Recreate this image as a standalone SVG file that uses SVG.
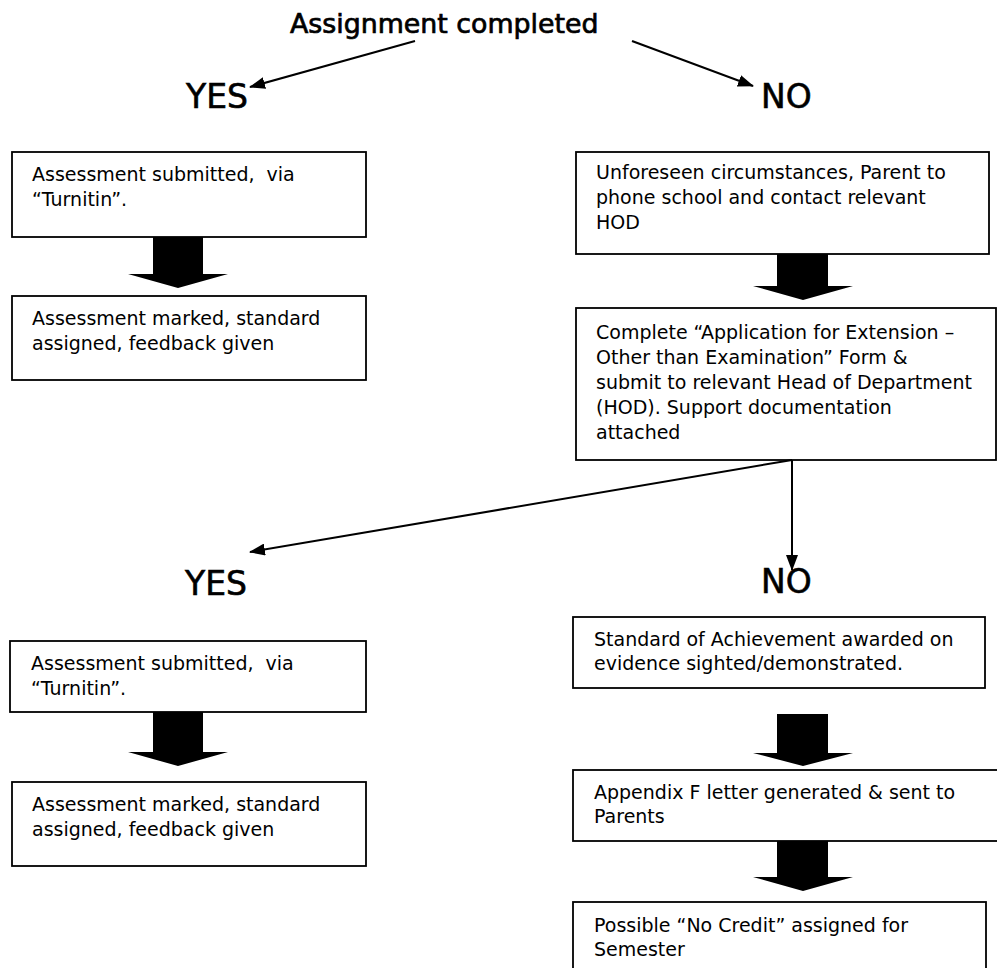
<svg xmlns="http://www.w3.org/2000/svg" width="997" height="968" viewBox="0 0 997 968">
<style>
  .box { fill: #fff; stroke: #000; stroke-width: 1.8; }
  .t { font-family: "DejaVu Sans", Verdana, sans-serif; font-size: 19px; fill: #000; white-space: pre; }
  .big { font-family: "DejaVu Sans", Verdana, sans-serif; font-size: 33px; fill: #000; stroke: #000; stroke-width: 0.6; }
  .title { font-family: "DejaVu Sans", Verdana, sans-serif; font-size: 26.8px; fill: #000; stroke: #000; stroke-width: 0.7; }
  .con { fill: none; stroke: #000; stroke-width: 2; marker-end: url(#ah); }
  .blk { fill: #000; }
</style>
<defs>
  <marker id="ah" markerWidth="16" markerHeight="12" refX="15" refY="6" orient="auto" markerUnits="userSpaceOnUse">
    <path d="M0,0 L16,6 L0,12 Z" fill="#000"/>
  </marker>
</defs>

<g id="title"><text class="title" x="290" y="33">Assignment completed</text></g>
<g id="yes1"><text class="big" x="186" y="108">YES</text></g>
<g id="no1"><text class="big" x="761" y="108">NO</text></g>

<g id="box-l1">
  <rect class="box" x="12" y="152" width="354" height="85"/>
  <text class="t" x="32" y="181" xml:space="preserve">Assessment submitted,  via</text>
  <text class="t" x="32" y="206">“Turnitin”.</text>
</g>
<g id="box-l2">
  <rect class="box" x="12" y="296" width="354" height="84"/>
  <text class="t" x="32" y="325">Assessment marked, standard</text>
  <text class="t" x="32" y="350">assigned, feedback given</text>
</g>

<g id="box-r1">
  <rect class="box" x="576" y="152" width="413" height="102"/>
  <text class="t" x="596" y="179">Unforeseen circumstances, Parent to</text>
  <text class="t" x="596" y="204">phone school and contact relevant</text>
  <text class="t" x="596" y="229">HOD</text>
</g>
<g id="box-r2">
  <rect class="box" x="576" y="308" width="420" height="152"/>
  <text class="t" x="596" y="339">Complete “Application for Extension –</text>
  <text class="t" x="596" y="364">Other than Examination” Form &amp;</text>
  <text class="t" x="596" y="389">submit to relevant Head of Department</text>
  <text class="t" x="596" y="414">(HOD). Support documentation</text>
  <text class="t" x="596" y="439">attached</text>
</g>

<g id="yes2"><text class="big" x="185" y="595">YES</text></g>
<g id="no2"><text class="big" x="761" y="593">NO</text></g>

<g id="box-l3">
  <rect class="box" x="10" y="641" width="356" height="71"/>
  <text class="t" x="31" y="670" xml:space="preserve">Assessment submitted,  via</text>
  <text class="t" x="31" y="695">“Turnitin”.</text>
</g>
<g id="box-l4">
  <rect class="box" x="12" y="782" width="354" height="84"/>
  <text class="t" x="32" y="811">Assessment marked, standard</text>
  <text class="t" x="32" y="836">assigned, feedback given</text>
</g>

<g id="box-r3">
  <rect class="box" x="573" y="617" width="412" height="71"/>
  <text class="t" x="594" y="646">Standard of Achievement awarded on</text>
  <text class="t" x="594" y="670">evidence sighted/demonstrated.</text>
</g>
<g id="box-r4">
  <rect class="box" x="573" y="770" width="430" height="71"/>
  <text class="t" x="594" y="799">Appendix F letter generated &amp; sent to</text>
  <text class="t" x="594" y="823">Parents</text>
</g>
<g id="box-r5">
  <rect class="box" x="573" y="902" width="413" height="80"/>
  <text class="t" x="594" y="932">Possible “No Credit” assigned for</text>
  <text class="t" x="594" y="956">Semester</text>
</g>

<g id="connectors">
  <line class="con" x1="415" y1="41" x2="250" y2="87"/>
  <line class="con" x1="632" y1="41" x2="753" y2="86"/>
  <line class="con" x1="792" y1="460" x2="250" y2="552"/>
  <line class="con" x1="792" y1="460" x2="792" y2="570"/>
  <polygon class="blk" points="153,237 203,237 203,274 228,274 178,288 128,274 153,274"/>
  <polygon class="blk" points="153,712 203,712 203,752 228,752 178,766 128,752 153,752"/>
  <polygon class="blk" points="777,254 828,254 828,286 853,286 803,300 753,286 777,286"/>
  <polygon class="blk" points="777,714 828,714 828,753 853,753 803,766 753,753 777,753"/>
  <polygon class="blk" points="777,841 828,841 828,877 853,877 803,891 753,877 777,877"/>
</g>
</svg>
